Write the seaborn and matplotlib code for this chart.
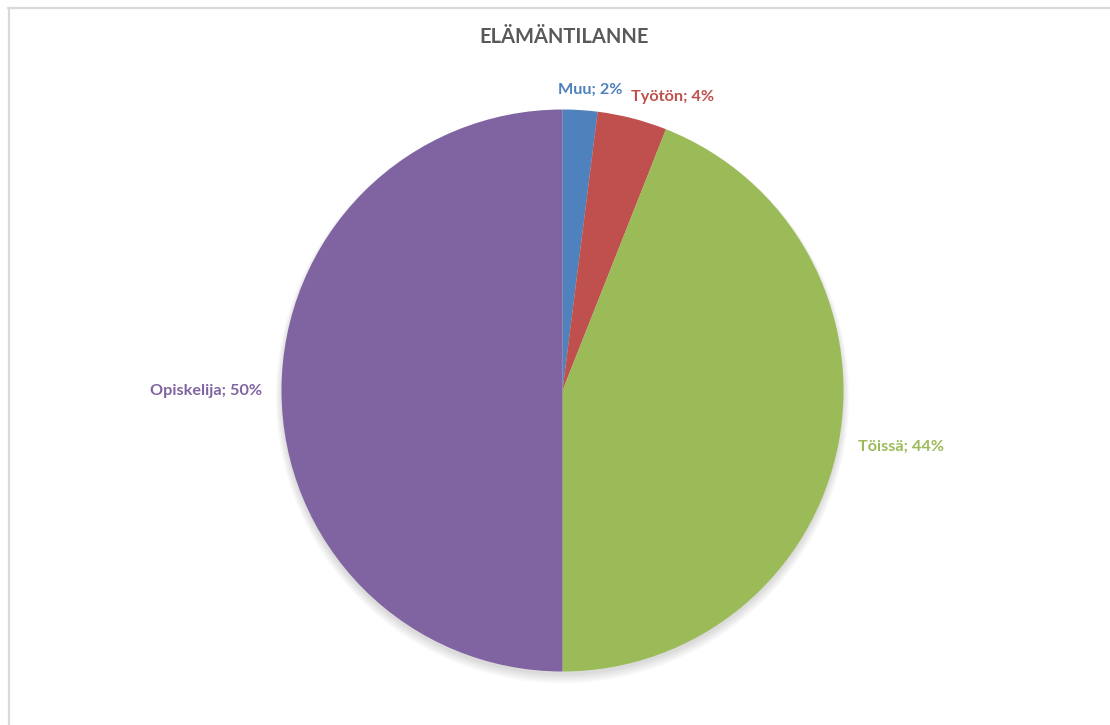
import numpy as np
import matplotlib
matplotlib.use('Agg')
import matplotlib.pyplot as plt
import seaborn as sns
from matplotlib.patches import Circle
from matplotlib.lines import Line2D

# data
categories = ['Muu', 'Työtön', 'Töissä', 'Opiskelija']
shares = [2, 4, 44, 50]
colors = ['#4F81BD', '#C0504D', '#9BBB59', '#8064A2']

sns.set_theme(style='white')
plt.rcParams['font.family'] = ['Lato', 'DejaVu Sans']

W, H = 1110, 725
fig = plt.figure(figsize=(W / 100, H / 100), dpi=100)
ax = fig.add_axes([0, 0, 1, 1])

# pie geometry in pixels
cx, cy, r = 562.5, 390.5, 281.0

# soft shadow under the pie
for i in range(6):
    ax.add_patch(Circle((0, -0.012 - i * 0.002), 1.0 + i * 0.004,
                        color='#000000', alpha=0.025, lw=0, zorder=0))

wedges, _ = ax.pie(shares, colors=sns.color_palette(colors), startangle=90,
                   counterclock=False, radius=1.0,
                   wedgeprops=dict(linewidth=0, zorder=2))

# map pixel layout to data units (1 unit = radius)
ax.set_xlim(-cx / r, (W - cx) / r)
ax.set_ylim(-(H - cy) / r, cy / r)
ax.set_aspect('auto')
ax.axis('off')

# label placement: radial distance, alignment, nudge in px
label_dist = [1.08, 1.08, 1.07, 1.07]
label_ha = ['center', 'left', 'left', 'right']
label_nudge = [(9, -2), (-7, 0), (0, 0), (0, -1)]

for w, cat, val, col, d, ha, (nx, ny) in zip(wedges, categories, shares, colors,
                                             label_dist, label_ha, label_nudge):
    ang = np.deg2rad((w.theta1 + w.theta2) / 2)
    x = d * np.cos(ang) + nx / r
    y = d * np.sin(ang) + ny / r
    ax.text(x, y, f'{cat}; {val}%', ha=ha, va='center', color=col,
            fontsize=11.7, fontweight='bold')

fig.text(564 / W, 1 - 37 / H, 'ELÄMÄNTILANNE', ha='center', va='center',
         fontsize=14.5, fontweight='bold', color='#595959')

# chart area border (top and left edges visible)
fig.add_artist(Line2D([8 / W, 1.0], [1 - 7.5 / H, 1 - 7.5 / H],
                      transform=fig.transFigure, color='#D9D9D9', lw=1.6))
fig.add_artist(Line2D([9 / W, 9 / W], [0, 1 - 7.5 / H],
                      transform=fig.transFigure, color='#D9D9D9', lw=1.6))

fig.savefig('out.png', dpi=100, facecolor='white')
